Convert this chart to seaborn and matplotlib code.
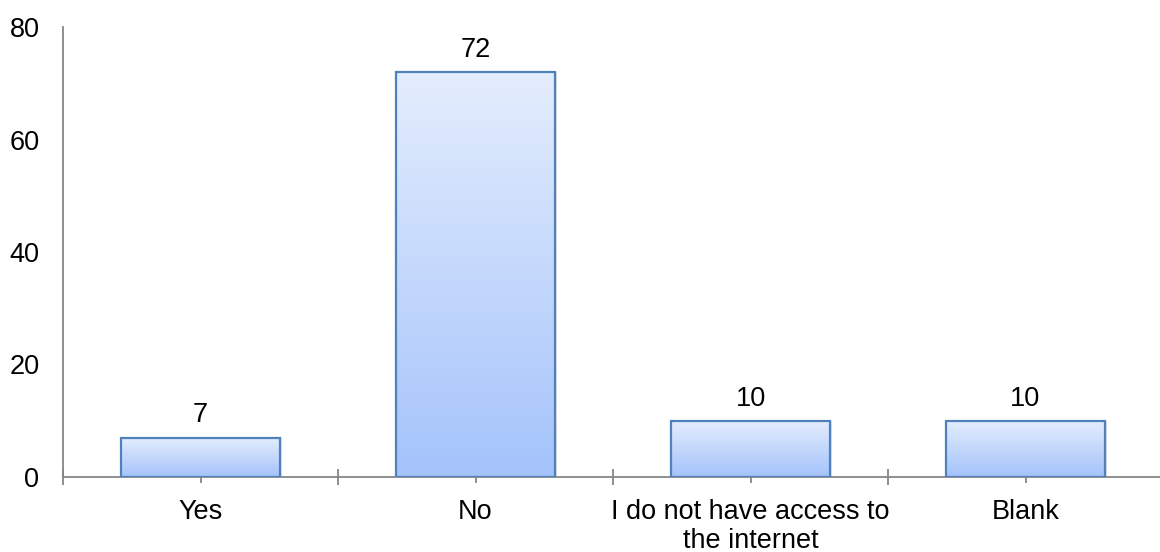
import numpy as np
import pandas as pd
import matplotlib
matplotlib.use("Agg")
import matplotlib.pyplot as plt
import seaborn as sns
from matplotlib.colors import LinearSegmentedColormap
from matplotlib.ticker import FixedLocator

categories = ["Yes", "No", "I do not have access to\nthe internet", "Blank"]
values = [7, 72, 10, 10]
yticks = [0, 20, 40, 60, 80]

sns.set_style("white")
plt.rcParams['font.family'] = ['Liberation Sans', 'DejaVu Sans']

FS = 19.5

df = pd.DataFrame({"category": categories, "value": values})

fig = plt.figure(figsize=(11.6, 5.52), dpi=100)
ax = fig.add_axes([63/1160, 1 - 477/552, (1163 - 63)/1160, 450/552])

sns.barplot(data=df, x="category", y="value", ax=ax, width=0.575,
            color="#c8dafc", edgecolor="#4f81bd", linewidth=1.6, saturation=1)

ax.set_xlim(-0.5, 3.5)
ax.set_ylim(0, 80)

cmap = LinearSegmentedColormap.from_list("g", ["#a4c3fb", "#e4edfd"])
grad = np.linspace(0, 1, 256).reshape(-1, 1)
for p in list(ax.patches):
    x0, y0 = p.get_x(), p.get_y()
    w, h = p.get_width(), p.get_height()
    sh = plt.Rectangle((x0 + 0.008, y0), w, h, transform=ax.transData,
                       facecolor="#d0d0d0", edgecolor="none", zorder=1, alpha=0.6)
    ax.add_patch(sh)
    im = ax.imshow(grad, extent=(x0, x0 + w, y0, y0 + h), origin="lower",
                   cmap=cmap, aspect="auto", zorder=2)
    im.set_clip_path(p)
    p.set_facecolor("none")
    p.set_zorder(3)
    ax.text(x0 + w / 2, y0 + h + 3.95, f"{int(h)}", ha="center", va="center",
            fontsize=FS, color="black")

ax.set_xlim(-0.5, 3.5)
ax.set_ylim(0, 80)
ax.set_yticks(yticks)
ax.set_xlabel("")
ax.set_ylabel("")

for s in ["top", "right"]:
    ax.spines[s].set_visible(False)
for s in ["left", "bottom"]:
    ax.spines[s].set_color("#868686")
    ax.spines[s].set_linewidth(1.3)
ax.spines["bottom"].set_zorder(2.5)

ax.tick_params(axis="y", left=False, length=0, pad=17, labelsize=FS, labelcolor="black")
ax.xaxis.set_minor_locator(FixedLocator([-0.5, 0.5, 1.5, 2.5]))
ax.tick_params(axis="x", which="major", bottom=True, direction="inout", length=8, width=1.3,
               color="#868686", pad=12, labelsize=FS, labelcolor="black")
ax.tick_params(axis="x", which="minor", bottom=True, direction="inout", length=11.5, width=1.3,
               color="#868686")
for lab in ax.get_xticklabels():
    lab.set_linespacing(1.12)
    lab.set_ha("center")

fig.savefig("out.png", dpi=100)
